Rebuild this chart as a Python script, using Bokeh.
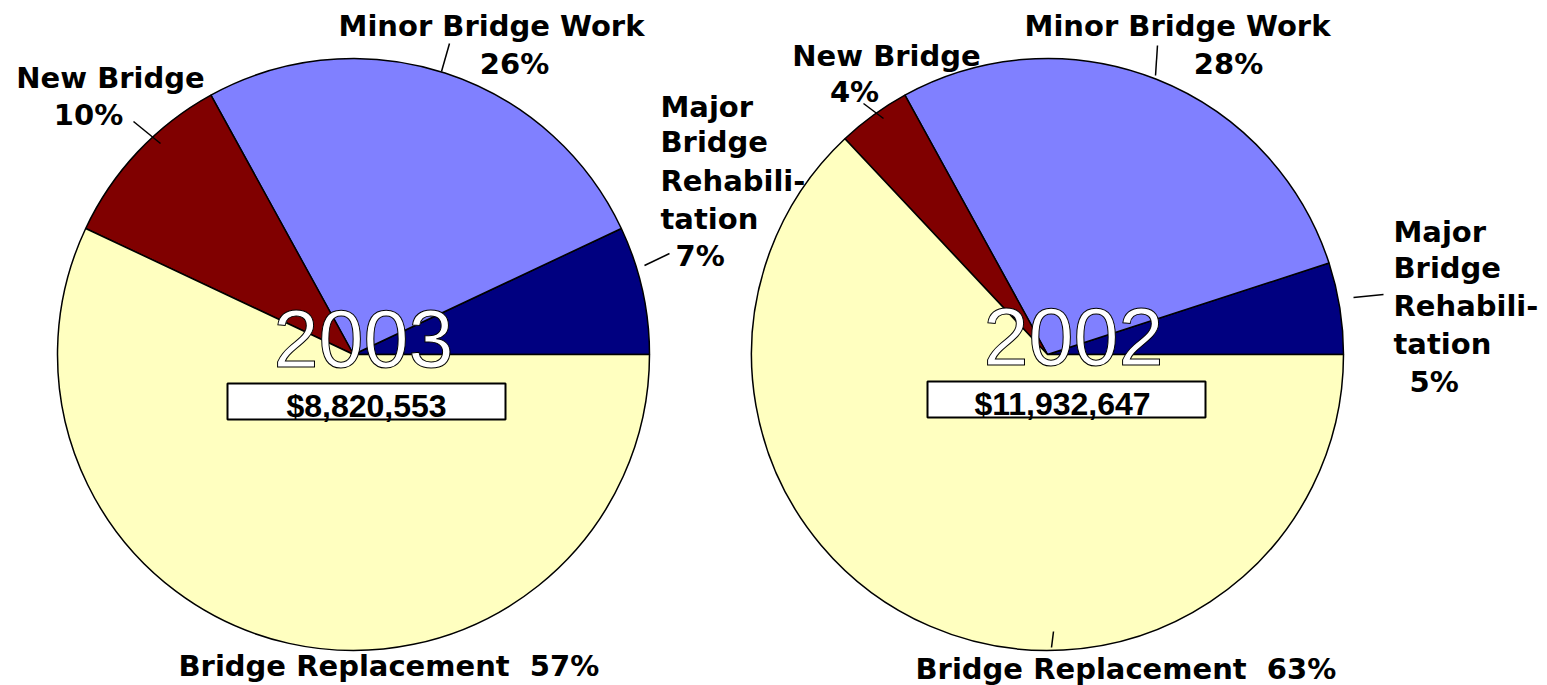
import math
from bokeh.plotting import figure
from bokeh.models import Range1d, ColumnDataSource, Text
from bokeh.core.properties import value
from bokeh.embed import file_html
from bokeh.resources import INLINE

# ---------------- data ----------------
categories = ["Major Bridge Rehabilitation", "Minor Bridge Work", "New Bridge", "Bridge Replacement"]
colors = ["#000080", "#8080FF", "#800000", "#FFFFC0"]
pct_2003 = [7, 26, 10, 57]
pct_2002 = [5, 28, 4, 63]
years = ["2003", "2002"]
totals = ["$8,820,553", "$11,932,647"]

# ---------------- layout (pixels, y down) ----------------
W, H = 1547, 685
def Y(py):
    return H - py

LABEL_FONT = value("DejaVu Sans")
LABEL_SIZE = "29px"
LABEL_SHIFT = 12   # baseline correction for the renderer
YEAR_SHIFT = 29
TOT_SHIFT = 12

p = figure(width=W, height=H, x_range=Range1d(0, W), y_range=Range1d(0, H),
           output_backend="svg", toolbar_location=None, min_border=0,
           x_axis_location=None, y_axis_location=None)
p.outline_line_color = None
p.grid.visible = False
p.background_fill_color = "white"
p.border_fill_color = "white"

pies = [
    dict(cx=353, cy=354, r=296, pct=pct_2003, year=years[0], total=totals[0],
         year_x=363, year_base=367, box=(227, 505, 383, 419), tot_x=366, tot_base=417),
    dict(cx=1047, cy=354, r=296, pct=pct_2002, year=years[1], total=totals[1],
         year_x=1073, year_base=365, box=(927, 1205, 381, 417), tot_x=1062, tot_base=415),
]

has_outline = "text_outline_color" in Text.properties()

for pie in pies:
    total = sum(pie["pct"])
    starts, ends = [], []
    acc = 0.0
    for v in pie["pct"]:
        starts.append(2 * math.pi * acc / total)
        acc += v
        ends.append(2 * math.pi * acc / total)
    src = ColumnDataSource(dict(start=starts, end=ends, color=colors, cat=categories))
    p.wedge(x=pie["cx"], y=Y(pie["cy"]), radius=pie["r"], start_angle="start", end_angle="end",
            fill_color="color", line_color="black", line_width=1.5, source=src)

    # year text (outlined)
    yb = Y(pie["year_base"] - YEAR_SHIFT)
    if has_outline:
        p.text(x=[pie["year_x"]], y=[yb], text=[pie["year"]],
               text_font=value("Liberation Sans"), text_font_size="81px",
               text_color="white", text_outline_color="black",
               text_align="center", text_baseline="alphabetic")
    else:
        for dx in (-2, 0, 2):
            for dy in (-2, 0, 2):
                if dx == 0 and dy == 0:
                    continue
                p.text(x=[pie["year_x"] + dx], y=[yb + dy], text=[pie["year"]],
                       text_font=value("Liberation Sans"), text_font_size="81px",
                       text_color="black", text_align="center", text_baseline="alphabetic")
        p.text(x=[pie["year_x"]], y=[yb], text=[pie["year"]],
               text_font=value("Liberation Sans"), text_font_size="81px",
               text_color="white", text_align="center", text_baseline="alphabetic")

    # total box
    l, rgt, t, b = pie["box"]
    p.quad(left=[l], right=[rgt], top=[Y(t)], bottom=[Y(b)],
           fill_color="white", line_color="black", line_width=2)
    p.text(x=[pie["tot_x"]], y=[Y(pie["tot_base"] - TOT_SHIFT)], text=[pie["total"]],
           text_font=value("Liberation Sans"), text_font_style="bold", text_font_size="32px",
           text_color="black", text_align="center", text_baseline="alphabetic")

# ---------------- labels ----------------
def label(txt, x, base, align="center"):
    p.text(x=[x], y=[Y(base - LABEL_SHIFT)], text=[txt], text_font=LABEL_FONT,
           text_font_style="bold", text_font_size=LABEL_SIZE, text_color="black",
           text_align=align, text_baseline="alphabetic")

NB = "\u00a0"

# 2003
label("Minor Bridge Work", 491, 37)
label(f"{pct_2003[1]}%", 514, 75)
label("New Bridge", 110, 89)
label(f"{pct_2003[2]}%", 88, 126)
for txt, base in zip(["Major", "Bridge", "Rehabili-", "tation"], [118, 153, 192, 230]):
    label(txt, 660, base, "left")
label(f"{pct_2003[0]}%", 675, 267, "left")
label(f"Bridge Replacement {NB}{pct_2003[3]}%", 178, 677, "left")

# 2002
label("Minor Bridge Work", 1177, 37)
label(f"{pct_2002[1]}%", 1228, 75)
label("New Bridge", 886, 67)
label(f"{pct_2002[2]}%", 854, 103)
for txt, base in zip(["Major", "Bridge", "Rehabili-", "tation"], [243, 279, 317, 355]):
    label(txt, 1393, base, "left")
label(f"{pct_2002[0]}%", 1409, 393, "left")
label(f"Bridge Replacement {NB}{pct_2002[3]}%", 915, 680, "left")

# leader lines
lx0 = [449, 133, 644, 1157, 863, 1353, 1053]
ly0 = [43, 121, 265, 45, 103, 297, 631]
lx1 = [441, 160, 669, 1155, 883, 1383, 1051]
ly1 = [71, 143, 253, 75, 118, 294, 647]
p.segment(x0=lx0, y0=[Y(v) for v in ly0], x1=lx1, y1=[Y(v) for v in ly1],
          line_color="black", line_width=1.5)

open("out.html", "w").write(file_html(p, INLINE))
